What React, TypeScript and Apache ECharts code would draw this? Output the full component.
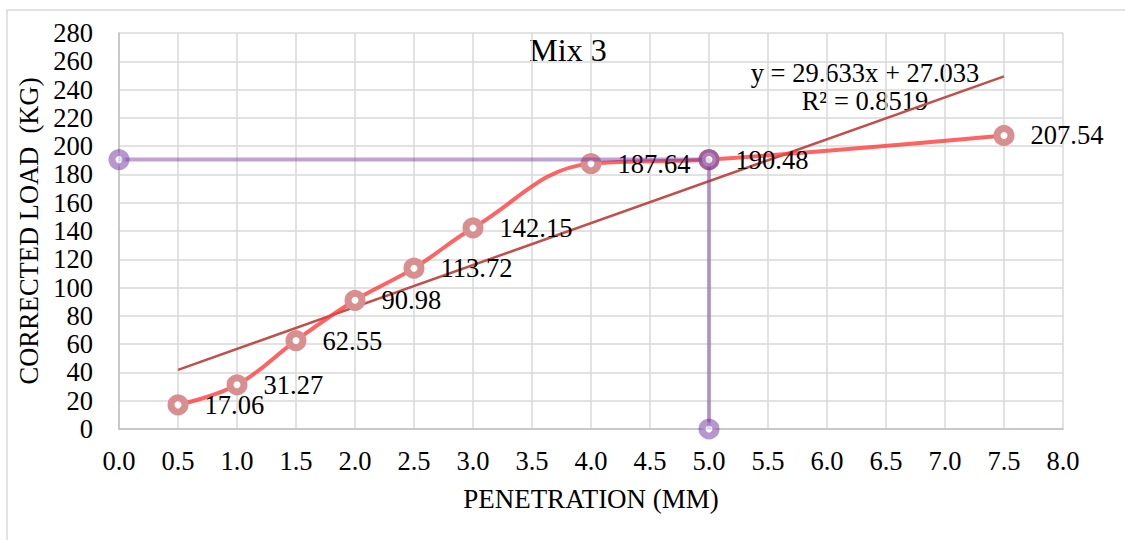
import React, { useEffect, useRef } from "react";
import * as echarts from "echarts";

const penetration = [0.5, 1.0, 1.5, 2.0, 2.5, 3.0, 4.0, 5.0, 7.5];
const correctedLoad = [17.06, 31.27, 62.55, 90.98, 113.72, 142.15, 187.64, 190.48, 207.54];
const guideX = [0, 5, 5];
const guideY = [190.48, 190.48, 0];
const trendX = [0.5, 7.5];
const trendY = [41.85, 249.28];
const titleText = "Mix 3";
const equationText = "y = 29.633x + 27.033";
const r2Text = "R² = 0.8519";
const xAxisTitle = "PENETRATION (MM)";
const yAxisTitle = "CORRECTED LOAD  (KG)";

const FONT = "Liberation Serif";
const FS = 26.5;

export default function App() {
  const ref = useRef<HTMLDivElement>(null);
  useEffect(() => {
    if (!ref.current) return;
    const chart = echarts.init(ref.current, null, { renderer: "svg" });
    const mainData = penetration.map((x, i) => [x, correctedLoad[i]]);
    const guideData = guideX.map((x, i) => [x, guideY[i]]);
    const trendData = trendX.map((x, i) => [x, trendY[i]]);
    chart.setOption({
      animation: false,
      backgroundColor: "#ffffff",
      grid: { left: 119, top: 33, right: 62, bottom: 111, containLabel: false },
      xAxis: {
        type: "value",
        min: 0,
        max: 8,
        interval: 0.5,
        name: xAxisTitle,
        nameLocation: "middle",
        nameGap: 56,
        nameTextStyle: { fontFamily: FONT, fontSize: 27, color: "#000" },
        axisLine: { show: true, onZero: false, lineStyle: { color: "#bfbfbf", width: 1.5 } },
        axisTick: { show: false },
        axisLabel: {
          margin: 18,
          fontFamily: FONT,
          fontSize: FS,
          color: "#000",
          formatter: (v: number) => v.toFixed(1),
        },
        splitLine: { show: true, lineStyle: { color: "#d9d9d9", width: 1.5 } },
      },
      yAxis: {
        type: "value",
        min: 0,
        max: 280,
        interval: 20,
        name: yAxisTitle,
        nameLocation: "middle",
        nameGap: 74,
        nameRotate: 90,
        nameTextStyle: { fontFamily: FONT, fontSize: FS, color: "#000" },
        axisLine: { show: true, lineStyle: { color: "#bfbfbf", width: 1.5 } },
        axisTick: { show: false },
        axisLabel: { margin: 26, fontFamily: FONT, fontSize: FS, color: "#000" },
        splitLine: { show: true, lineStyle: { color: "#d9d9d9", width: 1.5 } },
      },
      graphic: [
        {
          type: "rect",
          z: -10,
          silent: true,
          shape: { x: 7, y: 10, width: 1200, height: 600 },
          style: { fill: "none", stroke: "#d9d9d9", lineWidth: 1.5 },
        },
        {
          type: "text",
          x: 568,
          y: 50,
          style: {
            text: titleText,
            fontFamily: FONT,
            fontSize: 32,
            fill: "#000",
            textAlign: "center",
            textVerticalAlign: "middle",
          },
        },
        {
          type: "text",
          x: 865,
          y: 73,
          style: {
            text: equationText,
            fontFamily: FONT,
            fontSize: FS,
            fill: "#000",
            textAlign: "center",
            textVerticalAlign: "middle",
          },
        },
        {
          type: "text",
          x: 865,
          y: 101,
          style: {
            text: r2Text,
            fontFamily: FONT,
            fontSize: FS,
            fill: "#000",
            textAlign: "center",
            textVerticalAlign: "middle",
          },
        },
      ],
      series: [
        {
          type: "line",
          data: trendData,
          symbol: "none",
          lineStyle: { color: "#c0504d", width: 2.5 },
          z: 2,
          silent: true,
        },
        {
          type: "line",
          data: mainData,
          smooth: 0.4,
          symbol: "circle",
          symbolSize: 14,
          itemStyle: { color: "#ffffff", borderColor: "#d98f8f", borderWidth: 7 },
          lineStyle: { color: "rgba(255,60,60,0.8)", width: 4 },
          label: {
            show: true,
            position: "right",
            distance: 16,
            fontFamily: FONT,
            fontSize: FS,
            color: "#000",
            formatter: (p: any) => Number(p.value[1]).toFixed(2),
          },
          z: 3,
        },
        {
          type: "line",
          data: guideData,
          clip: false,
          symbol: "circle",
          symbolSize: 14,
          itemStyle: { color: "rgba(255,255,255,0.6)", borderColor: "rgba(112,48,160,0.5)", borderWidth: 7 },
          lineStyle: { color: "rgba(112,48,160,0.45)", width: 4 },
          z: 4,
        },
      ],
    });
    return () => chart.dispose();
  }, []);
  return (
    <div
      ref={ref}
      style={{ position: "fixed", left: 0, top: 0, width: 1125, height: 540, background: "#fff" }}
    />
  );
}
